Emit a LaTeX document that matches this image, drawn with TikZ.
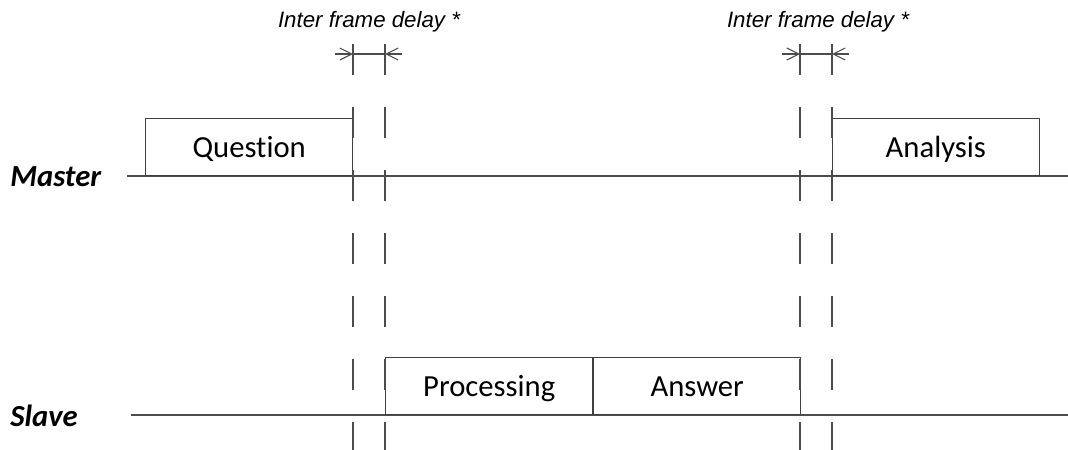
\documentclass[tikz,border=0pt]{standalone}
\usepackage{fontspec}
\setmainfont[Ligatures=NoCommon]{Carlito}
\newfontfamily\arialfont{Liberation Sans}
\usetikzlibrary{arrows.meta}

\begin{document}
\begin{tikzpicture}[x=0.75pt,y=-0.75pt]
	\tikzstyle{frame}=[draw=black!75,line width=0.8pt,inner sep=0pt,minimum width=155.5pt,minimum height=42.75pt,text height=20pt,text depth=4.5pt,font=\fontsize{23}{27}\selectfont]
	\tikzstyle{role}=[inner sep=0pt,anchor=west,font=\fontsize{23}{27}\selectfont\bfseries\itshape]
	\tikzstyle{delay}=[font=\arialfont\itshape\fontsize{16.7}{20}\selectfont]
	\tikzstyle{timeline}=[draw=black!70,line width=0.8pt]
	\tikzstyle{guide}=[draw=black!70,line width=0.8pt,dash pattern=on 23.5pt off 23.75pt]
	\tikzstyle{gap}=[draw=black!70,line width=0.8pt,-{Straight Barb[length=9pt,width=9pt]}]
	\useasboundingbox (0,0) rectangle (1068,450);
	% time axes
	\coordinate (m0) at (127,176);
	\coordinate (m1) at (1068,176);
	\coordinate (s0) at (131,415);
	\coordinate (s1) at (1068,415);
	\path[timeline] (m0) -- (m1);
	\path[timeline] (s0) -- (s1);
	\node[role](master) at (10,177) {Master};
	\node[role](slave) at (10,416) {Slave};
	% frames
	\node[frame,anchor=south west](question) at (145,176) {Question};
	\node[frame,anchor=south east](analysis) at (1040,176) {Analysis};
	\node[frame,anchor=south west](processing) at (385,415) {Processing};
	\node[frame,anchor=south west](answer) at (593,415) {Answer};
	% delay guides
	\foreach \n/\x in {a/353,b/385,c/800,d/832}{
		\coordinate (top\n) at (\x,44);
		\coordinate (bot\n) at (\x,450);
		\coordinate (mark\n) at (\x,54);
		\path[guide] (top\n) -- (bot\n);
	}
	\coordinate (outa) at (335,54);
	\coordinate (outb) at (402,54);
	\coordinate (outc) at (782,54);
	\coordinate (outd) at (849,54);
	\path[gap] (outa) -- (marka);
	\path[timeline] (marka) -- (markb);
	\path[gap] (outb) -- (markb);
	\path[gap] (outc) -- (markc);
	\path[timeline] (markc) -- (markd);
	\path[gap] (outd) -- (markd);
	\node[delay](delay1) at (369,22) {Inter frame delay *};
	\node[delay](delay2) at (818,22) {Inter frame delay *};
\end{tikzpicture}
\end{document}
